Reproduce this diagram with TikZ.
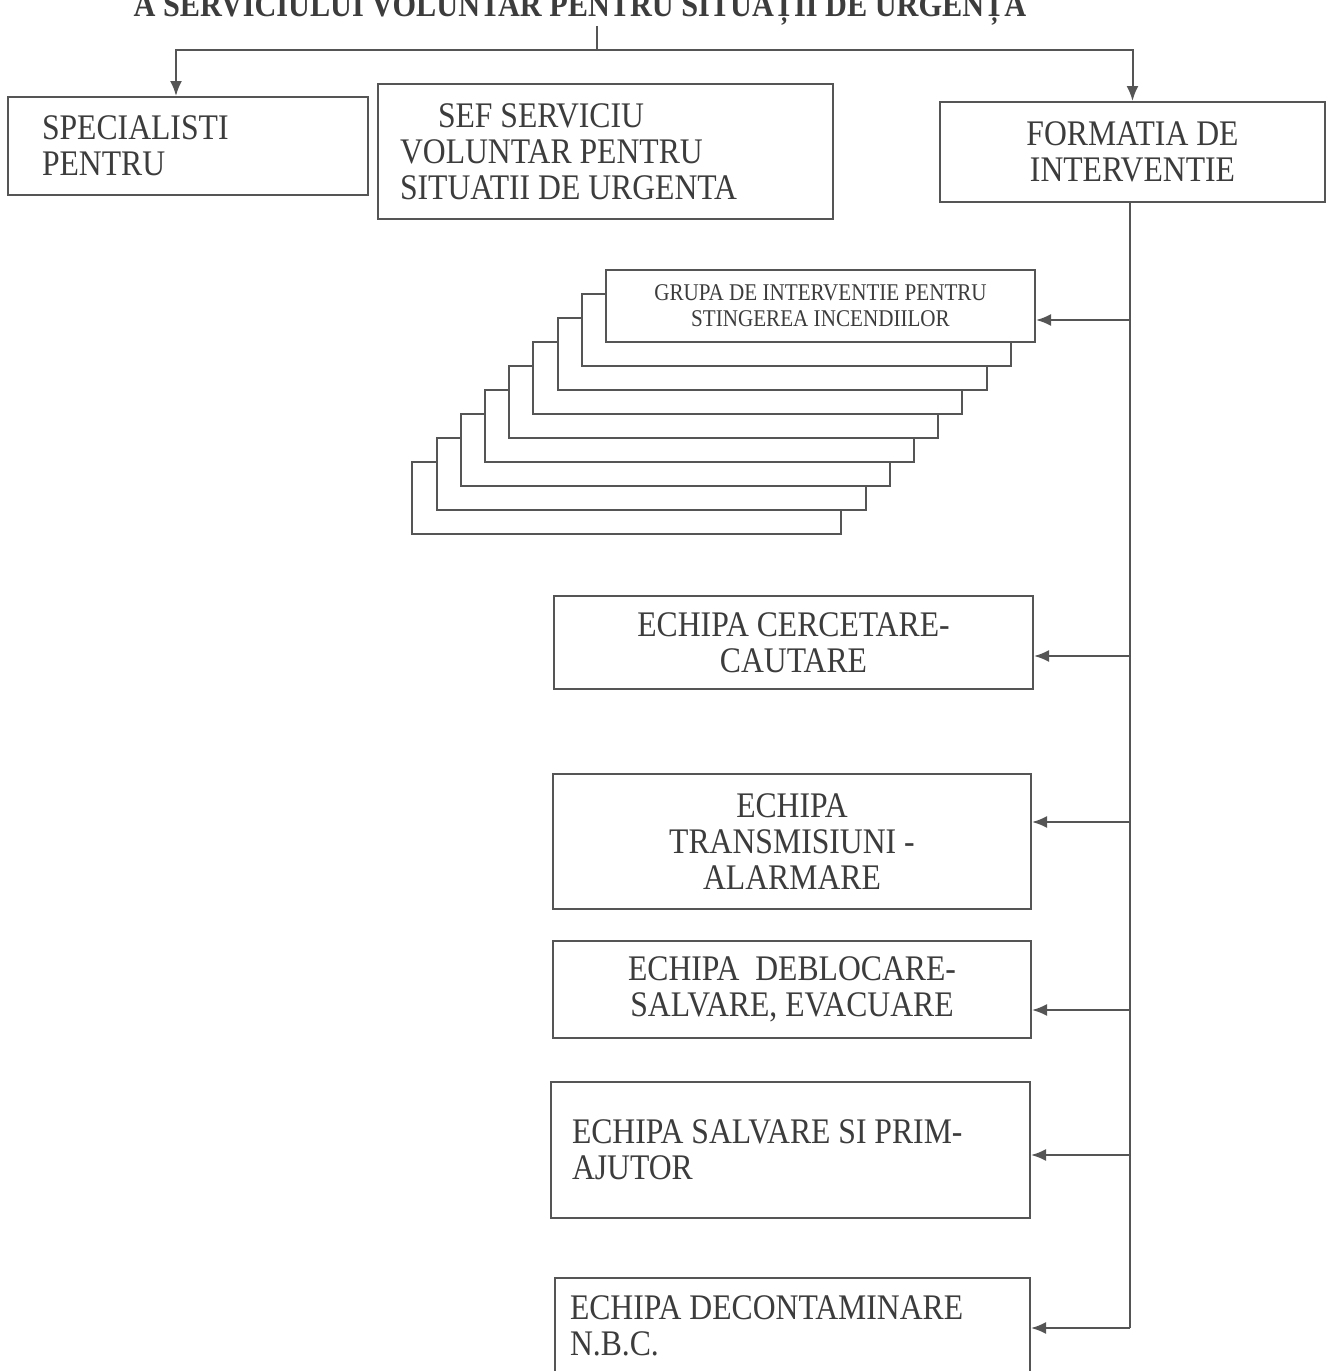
\documentclass[tikz,border=0pt]{standalone}
\usepackage{fontspec}
\setmainfont{Liberation Serif}[FakeStretch=0.88]
\usetikzlibrary{arrows.meta}
\definecolor{linegray}{HTML}{555555}
\definecolor{textgray}{HTML}{3C3C3C}

\begin{document}
\begin{tikzpicture}
[x=0.5pt,y=-0.5pt,line width=1pt,draw=linegray,
 >={Latex[length=7.5pt,width=6pt]},
 box/.style={draw=linegray,fill=white,text=textgray,inner sep=0pt,
   font=\fontsize{18}{18}\selectfont,align=center},
 leftbox/.style={box,align=flush left},
 stackbox/.style={draw=linegray,fill=white,inner sep=0pt,
   minimum width=214.5pt,minimum height=36pt},
 titletext/.style={text=textgray,inner sep=0pt,font=\fontsize{17.2}{17}\selectfont\bfseries}]
\useasboundingbox (0,0) rectangle (1333,1371);

% title (cut at the top of the page)
\node [titletext, anchor=base] (title) at (580,16) {A SERVICIULUI VOLUNTAR PENTRU SITUAȚII DE URGENȚA};

% top row
\node [leftbox, minimum height=49pt, text width=146pt, inner xsep=17pt] (spec) at (188,146)
  {SPECIALISTI\\PENTRU};
\node [leftbox, minimum height=67.5pt, text width=205.5pt, inner xsep=11pt] (sef) at (605.5,151.5)
  {\hspace*{19pt}SEF SERVICIU\\VOLUNTAR PENTRU\\SITUATII DE URGENTA};
\node [box, minimum width=192.5pt, minimum height=50pt] (form) at (1132.5,152)
  {FORMATIA DE\\INTERVENTIE};

% stacked groups
\foreach \i in {8,...,1}
  \node [stackbox] (g\i) at (820.5-24.2*\i,306+24*\i) {};
\node [box, minimum width=214.5pt, minimum height=36pt,
  font=\fontsize{12}{13}\selectfont] (grupa) at (820.5,306)
  {GRUPA DE INTERVENTIE PENTRU\\STINGEREA INCENDIILOR};

% teams
\node [box, minimum width=239.5pt, minimum height=46.5pt] (cerc) at (793.5,642.5)
  {ECHIPA CERCETARE-\\CAUTARE};
\node [box, minimum width=239pt, minimum height=67.5pt] (trans) at (792,841.5)
  {ECHIPA\\TRANSMISIUNI -\\ALARMARE};
\node [box, minimum width=239pt, minimum height=48.5pt] (debl) at (792,989.5)
  {ECHIPA\ \ DEBLOCARE-\\SALVARE, EVACUARE};
\node [leftbox, minimum height=68pt, text width=218.5pt, inner xsep=10.5pt] (salv) at (790.5,1150)
  {ECHIPA SALVARE SI PRIM-\\AJUTOR};
\node [leftbox, minimum height=48pt, text width=222.5pt, inner xsep=7.5pt] (decon) at (792.5,1326)
  {ECHIPA DECONTAMINARE\\N.B.C.};

% arrows from the title
\coordinate (top) at (597,50);
\draw (title.south -| top) -- (top);
\draw [->] (top) -| ([xshift=-6pt]spec.north);
\draw [->] (top) -| (form.north);

% trunk
\coordinate (j1) at (1130,320);
\coordinate (j2) at (1130,656);
\coordinate (j3) at (1130,822);
\coordinate (j4) at (1130,1010);
\coordinate (j5) at (1130,1155);
\coordinate (j6) at (1130,1328);
\draw (form.south -| j1) -- (j6);

% arrows to the teams
\draw [->] (j1) -- (j1 -| grupa.east);
\draw [->] (j2) -- (j2 -| cerc.east);
\draw [->] (j3) -- (j3 -| trans.east);
\draw [->] (j4) -- (j4 -| debl.east);
\draw [->] (j5) -- (j5 -| salv.east);
\draw [->] (j6) -- (j6 -| decon.east);

\end{tikzpicture}
\end{document}
